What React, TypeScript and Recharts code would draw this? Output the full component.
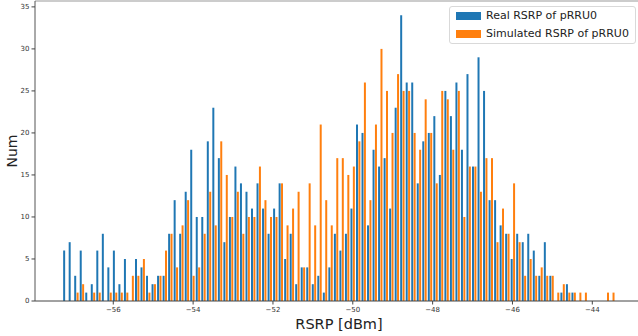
import { BarChart, Bar, XAxis, YAxis, ReferenceLine } from 'recharts';

// histogram counts per bin (100 bins)
const realCounts = [
  6, 7, 3, 6, 1, 2, 6, 8, 4, 6,
  2, 5, 0, 5, 4, 3, 2, 3, 3, 8,
  12, 8, 13, 18, 10, 10, 19, 23, 17, 7,
  10, 16, 14, 13, 11, 14, 11, 8, 11, 14,
  5, 8, 2, 4, 4, 2, 3, 1, 4, 8,
  6, 8, 11, 21, 20, 9, 18, 16, 17, 11,
  23, 34, 26, 26, 14, 19, 20, 22, 15, 25,
  22, 26, 18, 27, 16, 29, 25, 12, 12, 9,
  8, 5, 8, 7, 8, 6, 3, 7, 3, 0,
  1, 2, 1, 0, 0, 0, 0, 0, 0, 0,
];

const simCounts = [
  0, 0, 1, 2, 0, 1, 1, 0, 1, 1,
  1, 1, 3, 3, 5, 1, 2, 3, 6, 8,
  4, 9, 12, 3, 4, 8, 13, 9, 19, 15,
  10, 13, 8, 10, 10, 16, 12, 10, 10, 14,
  9, 11, 13, 4, 14, 9, 21, 12, 9, 17,
  17, 15, 16, 19, 26, 12, 21, 30, 25, 20,
  27, 25, 25, 20, 18, 24, 20, 14, 25, 24,
  18, 25, 10, 16, 16, 13, 17, 17, 7, 11,
  8, 14, 7, 3, 5, 3, 4, 3, 3, 1,
  2, 1, 1, 1, 1, 0, 0, 0, 1, 1,
];

// bin edges of the histogram
const binStart = -57.27;
const binWidth = 0.1384;
const binCenters = realCounts.map((_, i) => +(binStart + binWidth * (i + 0.5)).toFixed(3));

const xTicks = [-56, -54, -52, -50, -48, -46, -44];
const yTicks = [0, 5, 10, 15, 20, 25, 30, 35];

const seriesNames = ['Real RSRP of pRRU0', 'Simulated RSRP of pRRU0'];
const seriesColors = ['#1f77b4', '#ff7f0e'];

const rows = binCenters.map((c, i) => ({ center: c, real: realCounts[i], sim: simCounts[i] }));

const font = 'DejaVu Sans, sans-serif';

export default function App() {
  return (
    <div style={{ position: 'absolute', left: 0, top: 0, width: 638, height: 336, overflow: 'hidden', background: '#fff' }}>
      <BarChart
        width={643}
        height={336}
        data={rows}
        margin={{ top: 1, right: 0, bottom: 0, left: 0 }}
        barCategoryGap="10%"
        barGap={0.4}
        style={{ fontFamily: font }}
      >
        <XAxis
          xAxisId="num"
          dataKey="center"
          type="number"
          domain={[-57.961, -42.73]}
          allowDataOverflow
          ticks={xTicks}
          height={35}
          tickSize={3.5}
          tickMargin={3}
          tick={{ fontSize: 7, fill: '#333' }}
          tickFormatter={(v) => (v < 0 ? '\u2212' + Math.abs(v) : String(v))}
          axisLine={{ stroke: '#444' }}
          tickLine={{ stroke: '#444' }}
          label={{ value: 'RSRP [dBm]', position: 'insideBottom', offset: 7.5, fontSize: 14.5, fill: '#222' }}
        />
        <XAxis xAxisId="cat" dataKey="center" hide height={0} padding={{ left: 27.6, right: 27.9 }} />
        <YAxis
          width={35}
          domain={[0, 35.7]}
          ticks={yTicks}
          tickSize={3.5}
          tickMargin={2}
          tick={{ fontSize: 7, fill: '#333' }}
          axisLine={{ stroke: '#555' }}
          tickLine={{ stroke: '#444' }}
          label={{ value: 'Num', angle: -90, position: 'insideLeft', offset: 12.5, fontSize: 14, fill: '#222', style: { textAnchor: 'middle' } }}
        />
        <ReferenceLine xAxisId="num" y={35.7} stroke="#bbb" strokeWidth={1.5} />
        <Bar xAxisId="cat" dataKey="real" fill={seriesColors[0]} isAnimationActive={false} />
        <Bar xAxisId="cat" dataKey="sim" fill={seriesColors[1]} isAnimationActive={false} />
      </BarChart>

      <div
        style={{
          position: 'absolute',
          left: 449,
          top: 6,
          width: 187,
          height: 38,
          boxSizing: 'border-box',
          border: '1px solid #d9d9d9',
          borderRadius: 3,
          background: 'rgba(255,255,255,0.8)',
          fontFamily: font,
          fontSize: 11,
          color: '#222',
        }}
      >
        {seriesNames.map((name, i) => (
          <div
            key={name}
            style={{ position: 'absolute', left: 6, top: 3 + i * 18, height: 12, display: 'flex', alignItems: 'center' }}
          >
            <span style={{ display: 'inline-block', width: 25, height: 8, background: seriesColors[i], marginRight: 5 }} />
            <span style={{ lineHeight: '12px', whiteSpace: 'nowrap' }}>{name}</span>
          </div>
        ))}
      </div>
    </div>
  );
}
